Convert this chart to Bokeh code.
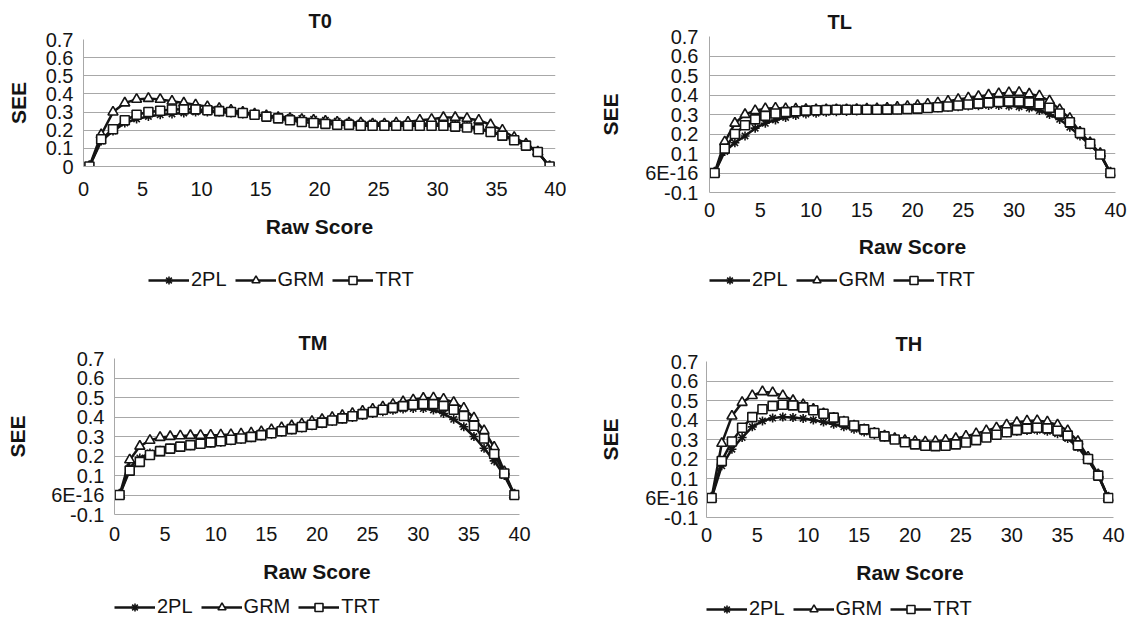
import numpy as np
from bokeh.plotting import figure
from bokeh.models import Legend, LegendItem, FixedTicker, Range1d
from bokeh.layouts import column, row
from bokeh.embed import file_html
from bokeh.resources import INLINE

# ---------------- data ----------------
raw_score = [i + 0.5 for i in range(40)]
x_ticks = [0, 5, 10, 15, 20, 25, 30, 35, 40]
y_ticks_t0 = [0, 0.1, 0.2, 0.3, 0.4, 0.5, 0.6, 0.7]
y_labels_t0 = ["0", "0.1", "0.2", "0.3", "0.4", "0.5", "0.6", "0.7"]
y_ticks_other = [-0.1, 0, 0.1, 0.2, 0.3, 0.4, 0.5, 0.6, 0.7]
y_labels_other = ["-0.1", "6E-16", "0.1", "0.2", "0.3", "0.4", "0.5", "0.6", "0.7"]
series_names = ["2PL", "GRM", "TRT"]

t0_2pl = [0, 0.14, 0.195, 0.24, 0.262, 0.276, 0.285, 0.29, 0.295, 0.30,
          0.30, 0.30, 0.295, 0.29, 0.285, 0.28, 0.275, 0.27, 0.265, 0.26,
          0.255, 0.25, 0.245, 0.24, 0.24, 0.235, 0.235, 0.235, 0.235, 0.235,
          0.235, 0.23, 0.225, 0.21, 0.195, 0.175, 0.15, 0.115, 0.08, 0]
t0_grm = [0, 0.175, 0.30, 0.35, 0.37, 0.375, 0.37, 0.36, 0.35, 0.34,
          0.33, 0.32, 0.31, 0.30, 0.29, 0.28, 0.27, 0.265, 0.26, 0.255,
          0.25, 0.245, 0.24, 0.24, 0.235, 0.235, 0.24, 0.245, 0.255, 0.26,
          0.27, 0.27, 0.265, 0.255, 0.23, 0.20, 0.16, 0.125, 0.08, 0]
t0_trt = [0, 0.15, 0.205, 0.255, 0.285, 0.30, 0.307, 0.314, 0.315, 0.315,
          0.31, 0.305, 0.30, 0.295, 0.285, 0.275, 0.265, 0.255, 0.245, 0.24,
          0.235, 0.23, 0.23, 0.225, 0.225, 0.225, 0.225, 0.225, 0.225, 0.225,
          0.225, 0.22, 0.215, 0.205, 0.19, 0.17, 0.145, 0.115, 0.08, 0]

tl_2pl = [0, 0.11, 0.155, 0.19, 0.23, 0.255, 0.272, 0.285, 0.295, 0.302,
          0.307, 0.311, 0.314, 0.316, 0.318, 0.32, 0.321, 0.322, 0.324, 0.326,
          0.328, 0.331, 0.334, 0.337, 0.34, 0.343, 0.345, 0.346, 0.346, 0.344,
          0.34, 0.333, 0.32, 0.30, 0.275, 0.235, 0.19, 0.145, 0.095, 0]
tl_grm = [0, 0.16, 0.255, 0.30, 0.32, 0.33, 0.333, 0.33, 0.328, 0.326,
          0.325, 0.325, 0.325, 0.325, 0.326, 0.328, 0.33, 0.333, 0.337, 0.342,
          0.347, 0.353, 0.36, 0.368, 0.377, 0.385, 0.393, 0.40, 0.407, 0.412,
          0.413, 0.405, 0.395, 0.37, 0.325, 0.28, 0.21, 0.155, 0.10, 0]
tl_trt = [0, 0.125, 0.20, 0.245, 0.275, 0.293, 0.305, 0.312, 0.317, 0.32,
          0.322, 0.323, 0.324, 0.324, 0.324, 0.324, 0.324, 0.325, 0.326, 0.328,
          0.33, 0.333, 0.337, 0.341, 0.346, 0.351, 0.356, 0.36, 0.364, 0.366,
          0.366, 0.362, 0.352, 0.335, 0.305, 0.26, 0.205, 0.15, 0.095, 0]

tm_2pl = [0, 0.14, 0.19, 0.215, 0.23, 0.24, 0.247, 0.253, 0.259, 0.265,
          0.271, 0.278, 0.285, 0.293, 0.302, 0.312, 0.322, 0.333, 0.344, 0.355,
          0.366, 0.377, 0.388, 0.398, 0.408, 0.418, 0.427, 0.435, 0.441, 0.444,
          0.443, 0.436, 0.418, 0.388, 0.35, 0.30, 0.24, 0.175, 0.10, 0]
tm_grm = [0, 0.18, 0.25, 0.28, 0.295, 0.30, 0.303, 0.305, 0.306, 0.307,
          0.308, 0.31, 0.313, 0.318, 0.325, 0.335, 0.345, 0.355, 0.365, 0.377,
          0.388, 0.398, 0.408, 0.418, 0.43, 0.44, 0.452, 0.465, 0.478, 0.488,
          0.496, 0.498, 0.492, 0.475, 0.445, 0.395, 0.33, 0.245, 0.12, 0]
tm_trt = [0, 0.125, 0.17, 0.205, 0.225, 0.238, 0.248, 0.256, 0.263, 0.27,
          0.276, 0.283, 0.29, 0.298, 0.307, 0.317, 0.327, 0.338, 0.349, 0.36,
          0.371, 0.382, 0.393, 0.404, 0.415, 0.426, 0.437, 0.447, 0.456, 0.463,
          0.467, 0.466, 0.457, 0.437, 0.405, 0.355, 0.29, 0.21, 0.11, 0]

th_2pl = [0, 0.165, 0.25, 0.31, 0.365, 0.395, 0.41, 0.415, 0.413, 0.408,
          0.40, 0.39, 0.378, 0.365, 0.352, 0.338, 0.325, 0.312, 0.30, 0.29,
          0.283, 0.28, 0.28, 0.284, 0.29, 0.298, 0.307, 0.317, 0.327, 0.335,
          0.342, 0.346, 0.347, 0.342, 0.33, 0.305, 0.26, 0.195, 0.115, 0]
th_grm = [0, 0.28, 0.42, 0.49, 0.525, 0.545, 0.54, 0.525, 0.50, 0.478,
          0.455, 0.432, 0.41, 0.39, 0.37, 0.35, 0.333, 0.318, 0.305, 0.295,
          0.29, 0.288, 0.29, 0.296, 0.305, 0.317, 0.33, 0.345, 0.36, 0.375,
          0.387, 0.395, 0.397, 0.39, 0.375, 0.345, 0.29, 0.21, 0.12, 0]
th_trt = [0, 0.19, 0.29, 0.36, 0.415, 0.455, 0.472, 0.478, 0.475, 0.465,
          0.45, 0.432, 0.412, 0.392, 0.372, 0.352, 0.333, 0.316, 0.30, 0.286,
          0.275, 0.268, 0.266, 0.268, 0.275, 0.285, 0.297, 0.31, 0.324, 0.337,
          0.348, 0.356, 0.36, 0.357, 0.345, 0.32, 0.27, 0.20, 0.115, 0]

# ---------------- style ----------------
FONT = "Liberation Sans"
INK = "#141414"
GRID = "#a8a8a8"
TICK_FS = "20px"
LABEL_FS = "21px"
TITLE_FS = "20px"
LEGEND_FS = "20px"

markers = {"2PL": ("asterisk", 9), "GRM": ("triangle", 10), "TRT": ("square", 9)}


def draw_series(p, name, xs, ys):
    ln = p.line(xs, ys, line_color=INK, line_width=2.5)
    mk, sz = markers[name]
    sc = p.scatter(xs, ys, marker=mk, size=sz, fill_color="white",
                   line_color=INK, line_width=1.6)
    return ln, sc


def make_chart(title, values, ymin, yticks, ylabels, lay):
    p = figure(width=566, height=lay["h"],
               x_range=Range1d(0, 40), y_range=Range1d(ymin, 0.7),
               output_backend="svg", toolbar_location=None,
               min_border_left=lay["bl"], min_border_right=lay["br"],
               min_border_top=lay["bt"], min_border_bottom=lay["bb"])
    p.outline_line_color = None
    p.background_fill_color = "white"
    p.border_fill_color = "white"
    p.xgrid.visible = False
    p.ygrid.grid_line_color = GRID
    p.ygrid.grid_line_width = 1

    p.title.text = title
    p.title.align = "left"
    p.title.offset = lay["toff"]
    p.title.standoff = lay["ts"]
    p.title.text_font = FONT
    p.title.text_font_size = TITLE_FS
    p.title.text_font_style = "bold"
    p.title.text_color = INK

    p.xaxis.ticker = FixedTicker(ticks=x_ticks)
    p.yaxis.ticker = FixedTicker(ticks=yticks)
    p.yaxis.major_label_overrides = {t: s for t, s in zip(yticks, ylabels)}

    for ax in (p.xaxis[0], p.yaxis[0]):
        ax.axis_line_color = GRID
        ax.major_tick_line_color = None
        ax.minor_tick_line_color = None
        ax.major_tick_out = 0
        ax.major_tick_in = 0
        ax.major_label_text_font = FONT
        ax.major_label_text_font_size = TICK_FS
        ax.major_label_text_color = INK
        ax.axis_label_text_font = FONT
        ax.axis_label_text_font_size = LABEL_FS
        ax.axis_label_text_font_style = "bold"
        ax.axis_label_text_color = INK

    p.xaxis.axis_label = "Raw Score"
    p.yaxis.axis_label = "SEE"
    p.xaxis.major_label_standoff = lay["xls"]
    p.xaxis.axis_label_standoff = lay["xas"]
    p.yaxis.major_label_standoff = lay["yls"]
    p.yaxis.axis_label_standoff = lay["yas"]

    for name in series_names:
        draw_series(p, name, raw_score, values[name])

    # legend strip under the chart (Excel-style legend below the plot);
    # its renderers carry the same series but the strip's ranges show none
    lg = figure(width=566, height=lay["lh"], x_range=Range1d(1000, 1001),
                y_range=Range1d(1000, 1001), output_backend="svg",
                toolbar_location=None, x_axis_type=None, y_axis_type=None,
                min_border=0)
    lg.outline_line_color = None
    lg.xgrid.visible = False
    lg.ygrid.visible = False
    items = []
    for name in series_names:
        ln, sc = draw_series(lg, name, raw_score, values[name])
        items.append(LegendItem(label=name, renderers=[ln, sc]))
    leg = Legend(items=items, location=lay["leg"], orientation="horizontal",
                 label_text_font=FONT, label_text_font_size=LEGEND_FS,
                 label_text_color=INK, glyph_width=41, glyph_height=20,
                 label_height=20, label_standoff=2, spacing=8, padding=0,
                 margin=0, border_line_color=None, background_fill_alpha=0,
                 inactive_fill_alpha=0)
    lg.add_layout(leg)
    return column(p, lg)


c_t0 = make_chart("T0", {"2PL": t0_2pl, "GRM": t0_grm, "TRT": t0_trt}, 0,
                  y_ticks_t0, y_labels_t0,
                  dict(h=265, bl=83, br=11, bt=37, bb=99,
                       xls=15, xas=16, yls=10, yas=13,
                       lh=46, leg=(65, 20), toff=225, ts=15))
c_tl = make_chart("TL", {"2PL": tl_2pl, "GRM": tl_grm, "TRT": tl_trt}, -0.1,
                  y_ticks_other, y_labels_other,
                  dict(h=265, bl=143, br=17, bt=36, bb=73,
                       xls=10, xas=15, yls=11, yas=20,
                       lh=46, leg=(0, 20), toff=118, ts=8))
c_tm = make_chart("TM", {"2PL": tm_2pl, "GRM": tm_grm, "TRT": tm_trt}, -0.1,
                  y_ticks_other, y_labels_other,
                  dict(h=278, bl=114, br=47, bt=47, bb=75,
                       xls=12, xas=16, yls=10, yas=19,
                       lh=33, leg=(0, 4), toff=184, ts=10))
c_th = make_chart("TH", {"2PL": th_2pl, "GRM": th_grm, "TRT": th_trt}, -0.1,
                  y_ticks_other, y_labels_other,
                  dict(h=278, bl=140, br=19, bt=50, bb=72,
                       xls=10, xas=16, yls=8, yas=20,
                       lh=33, leg=(0, 2), toff=189, ts=14))

layout = column(row(c_t0, c_tl), row(c_tm, c_th))

with open("out.html", "w") as f:
    f.write(file_html(layout, INLINE))
